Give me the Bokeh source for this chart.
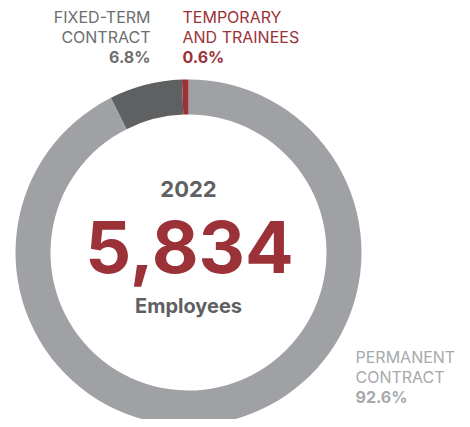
import math
from bokeh.plotting import figure
from bokeh.models import Range1d, ColumnDataSource
from bokeh.core.properties import value
from bokeh.embed import file_html
from bokeh.resources import INLINE

categories = ["PERMANENT CONTRACT", "FIXED-TERM CONTRACT", "TEMPORARY AND TRAINEES"]
shares = [92.6, 6.8, 0.6]
colors = ["#a0a1a4", "#5f6062", "#9b3238"]
year = "2022"
total = "5,834"
unit = "Employees"

FONT = "Inter"
W, H = 462, 419
p = figure(width=W, height=H, output_backend="svg", toolbar_location=None,
           x_range=Range1d(0, W), y_range=Range1d(-H, 0),
           min_border=0)
p.axis.visible = False
p.grid.visible = False
p.outline_line_color = None
p.background_fill_color = "white"

cx, cy = 188, -252
r_out, r_in = 173, 138

# clockwise from the top
starts, ends = [], []
a = math.pi / 2
for s in shares:
    ang = 2 * math.pi * s / 100.0
    starts.append(a - ang)
    ends.append(a)
    a -= ang
src = ColumnDataSource(dict(start=starts, end=ends, color=colors))
p.annular_wedge(x=cx, y=cy, inner_radius=r_in, outer_radius=r_out,
                start_angle="start", end_angle="end", fill_color="color",
                line_color=None, source=src)

CORR = 0.37

def txt(x, y, t, size, color, bold=False, align="left"):
    p.text(x=[x], y=[-(y - CORR * size)], text=[t], text_font=value(FONT),
           text_font_size=f"{size}px", text_color=color,
           text_font_style="bold" if bold else "normal",
           text_align=align, text_baseline="alphabetic")

# centre
txt(188, 197, year, 22, "#5f6062", True, "center")
txt(189, 273, total, 72, "#9b3238", True, "center")
txt(188, 313, unit, 20, "#5f6062", True, "center")

# fixed-term label
fx = categories[1].split(" ")
txt(150, 22, fx[0], 16, "#6d6e70", False, "right")
txt(150, 42, fx[1], 16, "#6d6e70", False, "right")
txt(150, 62, f"{shares[1]}%", 16, "#6d6e70", True, "right")

# temporary label
tp = categories[2].split(" ", 1)
txt(182, 22, tp[0], 16, "#9b3238", False, "left")
txt(182, 42, tp[1], 16, "#9b3238", False, "left")
txt(182, 62, f"{shares[2]}%", 16, "#9b3238", True, "left")

# permanent label
pm = categories[0].split(" ")
txt(355, 362, pm[0], 16, "#a7a9ac", False, "left")
txt(355, 382, pm[1], 16, "#a7a9ac", False, "left")
txt(355, 402, f"{shares[0]}%", 16, "#a7a9ac", True, "left")

open("out.html", "w").write(file_html(p, INLINE))
